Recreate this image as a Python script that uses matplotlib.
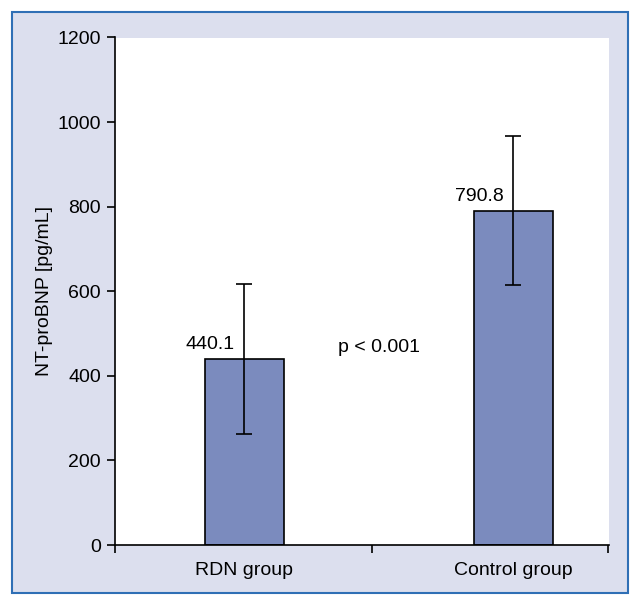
"""NT-proBNP by group: bar chart with SD error bars."""

import matplotlib

matplotlib.use("Agg")
import matplotlib.pyplot as plt
from matplotlib import font_manager
from matplotlib.patches import Rectangle

# data
groups = ["RDN group", "Control group"]
means = [440.1, 790.8]
sd = [176.5, 177.0]
value_labels = ["440.1", "790.8"]
y_ticks = [0, 200, 400, 600, 800, 1000, 1200]
p_text = "p < 0.001"

BAR_COLOR = "#7b8bbe"
PANEL_BG = "#dcdfee"
FRAME_BLUE = "#2f6fb5"

names = {f.name for f in font_manager.fontManager.ttflist}
narrow = "Liberation Sans Narrow" in names
plt.rcParams["font.family"] = ["Liberation Sans Narrow" if narrow else "Liberation Sans", "DejaVu Sans"]
FS = 16 if narrow else 14

W, H = 643, 607
fig = plt.figure(figsize=(W / 100, H / 100), dpi=100, facecolor="white")

# lavender panel with blue frame, behind the axes
fig.patches.append(Rectangle((12 / W, 1 - 593 / H), 616 / W, 581 / H,
                             transform=fig.transFigure, facecolor=PANEL_BG,
                             edgecolor=FRAME_BLUE, linewidth=1.5, zorder=-10))

ax = fig.add_axes([115 / W, 1 - 545 / H, 494 / W, 507.5 / H], zorder=1)
ax.set_facecolor("white")

x = [0, 1]
ax.bar(x, means, width=0.294, color=BAR_COLOR, edgecolor="black", linewidth=1.2, zorder=2)
ax.errorbar(x, means, yerr=sd, fmt="none", ecolor="black", elinewidth=1.2,
            capsize=5.5, capthick=1.2, zorder=3)

for xi, m, lab in zip(x, means, value_labels):
    ax.annotate(lab, (xi, m), xytext=(-7, 4), textcoords="offset points",
                ha="right", va="bottom", fontsize=FS)

ax.text(0.5, 466, p_text, ha="center", va="center", fontsize=FS)

ax.set_xlim(-0.481, 1.355)
ax.set_ylim(0, 1200)
ax.set_yticks(y_ticks)
ax.set_xticks([-0.481, 0.474, 1.35])
ax.set_xticklabels([])
ax.tick_params(axis="x", length=6, width=1.2, color="black")
ax.tick_params(axis="y", length=6, width=1.2, color="black", labelsize=FS, pad=4)
for xi, g in zip(x, groups):
    ax.annotate(g, (xi, 0), xytext=(0, -12), textcoords="offset points",
                ha="center", va="top", fontsize=FS, annotation_clip=False)

ax.set_ylabel("NT-proBNP [pg/mL]", fontsize=FS, labelpad=3)
for s in ("top", "right"):
    ax.spines[s].set_visible(False)
for s in ("left", "bottom"):
    ax.spines[s].set_linewidth(1.2)

fig.savefig("out.png", dpi=100, facecolor="white")
